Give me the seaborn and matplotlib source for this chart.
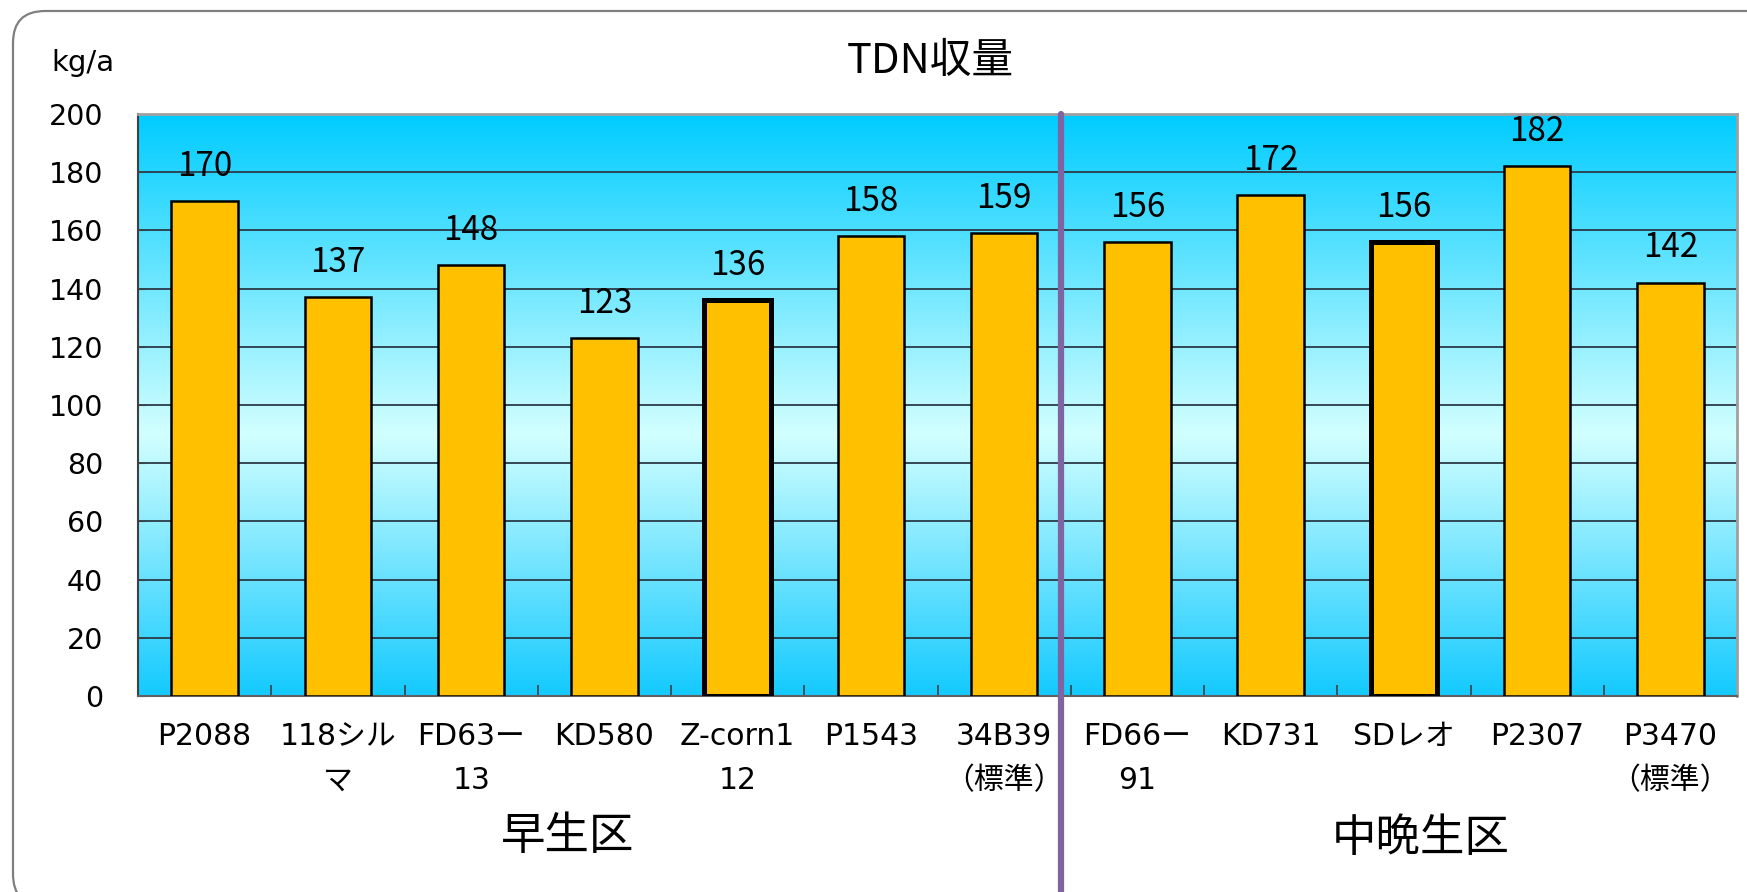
import numpy as np
import pandas as pd
import matplotlib
matplotlib.use("Agg")
import matplotlib.pyplot as plt
import matplotlib.transforms as mtransforms
import seaborn as sns
from matplotlib.colors import LinearSegmentedColormap
from matplotlib.patches import FancyBboxPatch

# ---------------- data ----------------
varieties = ["P2088", "118シル\nマ", "FD63ー\n13", "KD580", "Z-corn1\n12", "P1543",
             "34B39\n（標準）", "FD66ー\n91", "KD731", "SDレオ", "P2307", "P3470\n（標準）"]
tdn_yield = [170, 137, 148, 123, 136, 158, 159, 156, 172, 156, 182, 142]
group_names = ["早生区", "中晩生区"]
group_sizes = [7, 5]
highlighted = ["Z-corn1\n12", "SDレオ"]
y_ticks = [0, 20, 40, 60, 80, 100, 120, 140, 160, 180, 200]
title = "TDN収量"
unit = "kg/a"

# ---------------- style ----------------
sns.set_style("white")
plt.rcParams['font.family'] = ['Noto Sans CJK JP', 'DejaVu Sans']
plt.rcParams['text.color'] = 'black'
plt.rcParams['xtick.color'] = 'black'
plt.rcParams['ytick.color'] = 'black'

W, H = 1747, 892
fig = plt.figure(figsize=(W / 100, H / 100), dpi=100)
fig.patch.set_facecolor("white")
ax = fig.add_axes([138 / W, 196 / H, 1599 / W, 582 / H])

n = len(varieties)
ax.set_xlim(-0.5, n - 0.5)
ax.set_ylim(0, 200)

# gradient background
cmap = LinearSegmentedColormap.from_list(
    "bg", [(0.0, "#14CAFF"), (0.45, "#D2FFFF"), (1.0, "#00CCFF")])
grad = np.linspace(0, 1, 256).reshape(-1, 1)
ax.imshow(grad, cmap=cmap, aspect="auto", origin="lower",
          extent=[-0.5, n - 0.5, 0, 200], zorder=0)

# bars
df = pd.DataFrame({"variety": varieties, "yield": tdn_yield})
sns.barplot(data=df, x="variety", y="yield", color="#FFC000", saturation=1,
            width=0.5, edgecolor="black", linewidth=1.8, errorbar=None,
            ax=ax, zorder=3)
for patch, name in zip(ax.patches, varieties):
    if name in highlighted:
        patch.set_linewidth(3.6)

ax.bar_label(ax.containers[0], fmt="%d", padding=12.5, fontsize=24,
             color="black", zorder=4)

ax.set_xlim(-0.5, n - 0.5)
ax.set_ylim(0, 200)

# grid / spines / ticks
ax.set_axisbelow(True)
ax.yaxis.grid(True, color="#2A3A48", lw=1.3)
ax.xaxis.grid(False)
ax.set_yticks(y_ticks)
ax.set_yticklabels([str(v) for v in y_ticks], family=["DejaVu Sans"])
ax.tick_params(axis="y", direction="in", length=5, color="#404040",
               labelsize=20.5, pad=25, left=True)
ax.set_xticks(range(n))
ax.set_xticks(np.arange(0.5, n - 1, 1), minor=True)
ax.tick_params(axis="x", which="major", length=0, pad=19)
ax.tick_params(axis="x", which="minor", direction="in", length=8,
               color="#404040", width=1.2, bottom=True)
ax.set_xticklabels(varieties, fontsize=21.5, family=["DejaVu Sans", "Noto Sans CJK JP"],
                   linespacing=1.65, multialignment="center")
ax.set_xlabel("")
ax.set_ylabel("")
for s in ["top", "right"]:
    ax.spines[s].set_color("#A0A0A0")
    ax.spines[s].set_linewidth(2)
ax.spines["left"].set_color("#404040")
ax.spines["bottom"].set_color("#606060")
ax.spines["left"].set_linewidth(1.5)
ax.spines["bottom"].set_linewidth(1.5)

# group divider
ax.axvline(6.43, ymin=-196 / 582, ymax=1, color="#8064A2", lw=4.5,
           clip_on=False, zorder=5)

# texts
fig.text(930 / W, 1 - 62 / H, title, ha="center", va="center", fontsize=30)
fig.text(83 / W, 1 - 63 / H, unit, ha="center", va="center", fontsize=21,
         family=["DejaVu Sans"])
fig.text(568 / W, 1 - 836 / H, group_names[0], ha="center", va="center", fontsize=32)
fig.text(1421 / W, 1 - 838 / H, group_names[1], ha="center", va="center", fontsize=32)

# rounded outer frame
frame = FancyBboxPatch((13, -14), 1800, 881 + 14,
                       boxstyle="round,pad=0,rounding_size=32",
                       transform=mtransforms.IdentityTransform(),
                       facecolor="none", edgecolor="#7F7F7F", lw=1.6)
fig.add_artist(frame)

fig.savefig("out.png", dpi=100)
